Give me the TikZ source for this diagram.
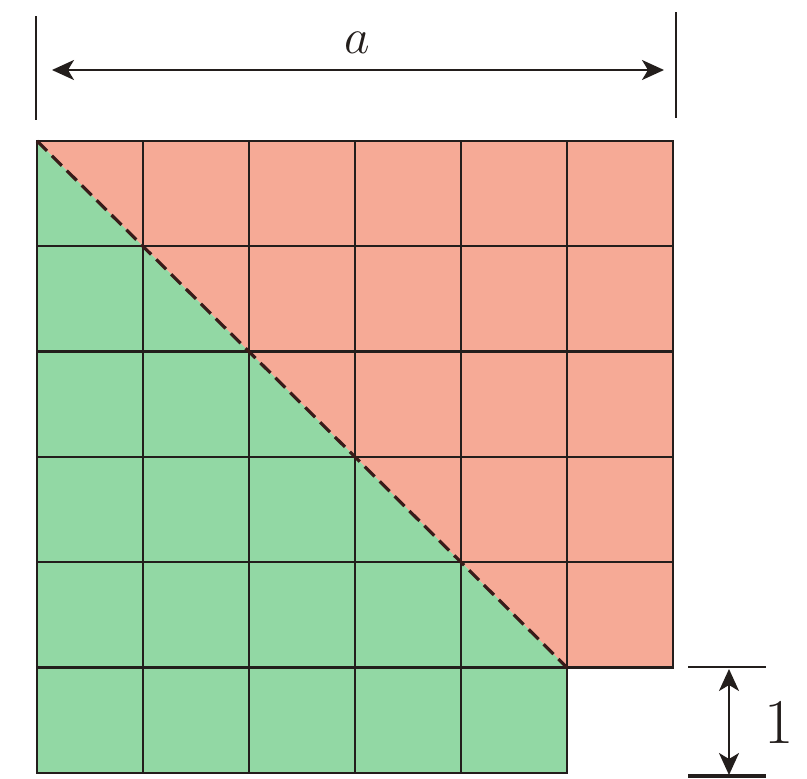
\documentclass[tikz,border=0pt]{standalone}
\usetikzlibrary{arrows.meta}
\definecolor{redfill}{RGB}{246,170,150}
\definecolor{greenfill}{RGB}{146,216,164}
\definecolor{inkline}{RGB}{35,30,28}
\begin{document}
\begin{tikzpicture}[x=0.5bp,y=-0.5bp,
  gridline/.style={line width=1.15bp, draw=inkline},
  diagline/.style={line width=1.6bp, draw=inkline!90!red, dash pattern=on 7bp off 3.5bp},
  dimline/.style={line width=0.8bp, draw=inkline},
  dimarrow/.style={line width=1.1bp, draw=inkline, {Stealth[length=11bp,width=10bp,inset=3bp]}-{Stealth[length=11bp,width=10bp,inset=3bp]}},
  lab/.style={font=\fontsize{32}{32}\selectfont, text=inkline, inner sep=0pt}]
\useasboundingbox (0,0) rectangle (807,779);
% fills
\fill[redfill] (37,141) -- (673,141) -- (673,667.5) -- (567,667.5) -- cycle;
\fill[greenfill] (37,141) -- (567,667.5) -- (567,772.8) -- (37,772.8) -- cycle;
% grid
\foreach \i in {0,...,5}
  \foreach \j in {0,...,4}
    \draw[gridline] ({37+\i*106},{141+\j*105.3}) rectangle ++(106,105.3);
\foreach \i in {0,...,4}
  \draw[gridline] ({37+\i*106},667.5) rectangle ++(106,105.3);
% diagonal
\coordinate (TL) at (37,141);
\coordinate (DE) at (567,667.5);
\draw[diagline] (TL) -- (DE);
% top dimension
\coordinate (L1) at (36,16);
\coordinate (L2) at (36,120);
\coordinate (R1) at (676,12);
\coordinate (R2) at (676,118);
\draw[dimline, line width=1.4bp] (L1) -- (L2);
\draw[dimline] (R1) -- (R2);
\coordinate (AL) at (52,70);
\coordinate (AR) at (664,70);
\draw[dimarrow] (AL) -- (AR);
\node[lab] (la) at (357,43) {$a$};
% right dimension
\coordinate (T1) at (688,667);
\coordinate (T2) at (766,667);
\coordinate (B1) at (688,776);
\coordinate (B2) at (766,776);
\draw[dimline] (T1) -- (T2);
\draw[dimline, line width=1.8bp] (B1) -- (B2);
\coordinate (VT) at (729,669);
\coordinate (VB) at (729,775);
\draw[dimarrow] (VT) -- (VB);
\node[lab] (l1) at (779,722) {1};
\end{tikzpicture}
\end{document}
